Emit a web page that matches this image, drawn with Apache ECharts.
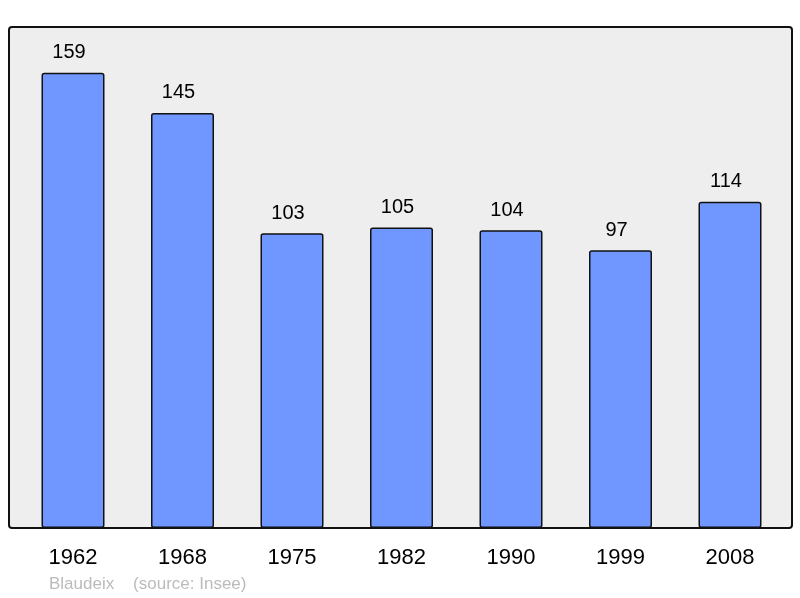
<!DOCTYPE html>
<html>
<head>
<meta charset="utf-8">
<script src="https://cdn.jsdelivr.net/npm/echarts@6/dist/echarts.min.js"></script>
<style>html,body{margin:0;padding:0;background:#fff}#c{width:800px;height:598px}</style>
</head>
<body>
<div id="c"></div>
<script>
var years = ['1962','1968','1975','1982','1990','1999','2008'];
var population = [159,145,103,105,104,97,114];
var footerText = 'Blaudeix    (source: Insee)';

var chart = echarts.init(document.getElementById('c'), null, {renderer:'canvas'});
chart.setOption({
  animation: false,
  backgroundColor: '#ffffff',
  graphic: [
    { type:'rect', z:-10, silent:true,
      shape:{ x:9, y:27, width:783, height:501, r:3 },
      style:{ fill:'#eeeeee', stroke:'#111111', lineWidth:2 } },
    { type:'text', left:49, top:576,
      style:{ text: footerText, fill:'#bbbbbb', font:'17px "Liberation Sans", Arial, sans-serif' } }
  ],
  grid: { left:18.25, right:15.25, top:27, bottom:70, containLabel:false },
  xAxis: {
    type:'category', data: years,
    axisLine:{show:false}, axisTick:{show:false},
    axisLabel:{ color:'#000', fontSize:22, fontFamily:'"Liberation Sans", Arial, sans-serif', margin:19 }
  },
  yAxis: {
    type:'value', min:0, max:175,
    show:false, splitLine:{show:false}
  },
  series: [{
    type:'bar', data: population, barWidth:63,
    itemStyle:{ color:'#7097ff', borderColor:'#111111', borderWidth:1.5, borderRadius:2 },
    label:{ show:true, position:'top', distance:10, offset:[-4,0], color:'#000', fontSize:20,
            fontFamily:'"Liberation Sans", Arial, sans-serif' }
  }]
});
</script>
</body>
</html>
